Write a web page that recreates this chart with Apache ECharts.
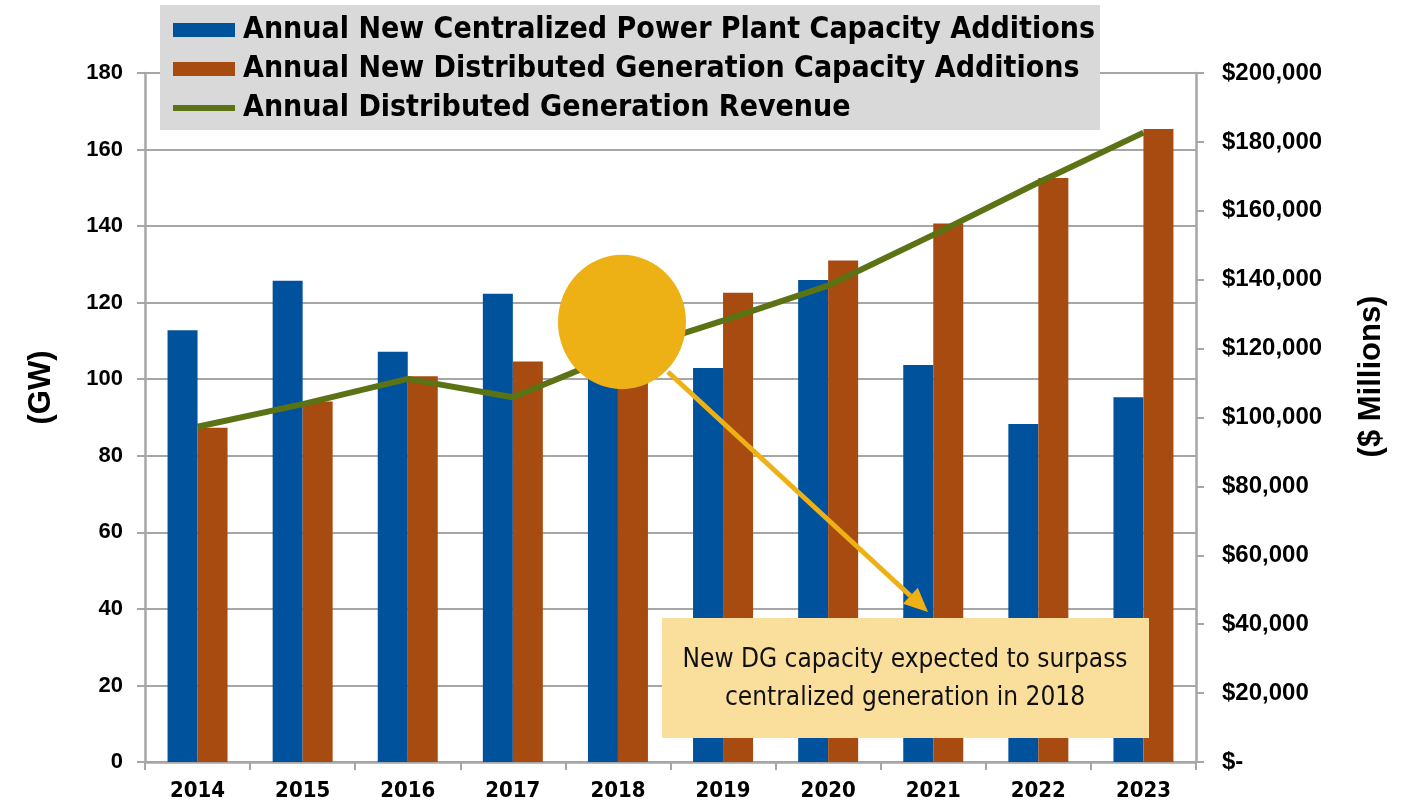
<!DOCTYPE html>
<html><head><meta charset="utf-8">
<script src="https://cdn.jsdelivr.net/npm/echarts@6/dist/echarts.min.js"></script>
<style>html,body{margin:0;padding:0;background:#fff}#c{width:1414px;height:807px}</style>
</head><body><div id="c"></div>
<script>
const years = ['2014','2015','2016','2017','2018','2019','2020','2021','2022','2023'];
const centralized = [112.8, 125.7, 107.2, 122.3, 108.0, 102.9, 125.9, 103.7, 88.3, 95.3];
const distributed = [87.3, 94.2, 100.8, 104.6, 113.0, 122.6, 131.0, 140.7, 152.6, 165.4];
const revenue = [97300, 103900, 111200, 105900, 118400, 128100, 138300, 153000, 168200, 182700];
const seriesNames = ['Annual New Centralized Power Plant Capacity Additions',
  'Annual New Distributed Generation Capacity Additions',
  'Annual Distributed Generation Revenue'];
const leftAxisName = '(GW)';
const rightAxisName = '($ Millions)';
const noteText = 'New DG capacity expected to surpass\ncentralized generation in 2018';

const NARROW = "'Liberation Sans Narrow','DejaVu Sans Condensed','Arial Narrow',sans-serif";
const SANS = "'Liberation Sans',Arial,sans-serif";
const GRAY = '#A6A6A6';
const GOLD = '#EDB015';

const chart = echarts.init(document.getElementById('c'));
const tip = [928, 612], from = [668, 372];
const dx = tip[0]-from[0], dy = tip[1]-from[1], L = Math.hypot(dx, dy);
const ux = dx/L, uy = dy/L, hl = 24, hw = 11;
const bx = tip[0]-ux*hl, by = tip[1]-uy*hl;

chart.setOption({
  animation: false,
  backgroundColor: '#fff',
  grid: {left: 145, right: 218, top: 73, bottom: 45, containLabel: false},
  legend: {
    orient: 'vertical', left: 160, top: 5,
    backgroundColor: '#D9D9D9', borderWidth: 0,
    padding: [10, 5, 7, 13], itemGap: 9,
    itemWidth: 62, itemHeight: 14,
    textStyle: {fontFamily: NARROW, fontWeight: 'bold', fontSize: 30, color: '#000', lineHeight: 30, padding: [0,0,0,3]},
    data: [{name: seriesNames[0], icon: 'rect'}, {name: seriesNames[1], icon: 'rect'},
           {name: seriesNames[2], icon: 'path://M0,0h62v6h-62z'}]
  },
  xAxis: {
    type: 'category', data: years,
    axisLine: {lineStyle: {color: GRAY, width: 2.5}},
    axisTick: {show: true, length: 8, lineStyle: {color: GRAY, width: 2}},
    axisLabel: {color: '#000', fontFamily: NARROW, fontWeight: 'bold', fontSize: 22, margin: 18}
  },
  yAxis: [{
    type: 'value', min: 0, max: 180, interval: 20,
    name: leftAxisName, nameLocation: 'middle', nameGap: 88, nameRotate: 90,
    nameTextStyle: {color: '#000', fontFamily: SANS, fontWeight: 'bold', fontSize: 31, padding: [0, 0, 0, 60]},
    axisLine: {show: true, lineStyle: {color: GRAY, width: 2.5}},
    axisTick: {show: true, length: 8, lineStyle: {color: GRAY, width: 2}},
    splitLine: {show: true, lineStyle: {color: GRAY, width: 2}},
    axisLabel: {color: '#000', fontFamily: SANS, fontWeight: 'bold', fontSize: 22, margin: 22}
  }, {
    type: 'value', min: 0, max: 200000, interval: 20000, position: 'right',
    name: rightAxisName, nameLocation: 'middle', nameGap: 160, nameRotate: 90,
    nameTextStyle: {color: '#000', fontFamily: SANS, fontWeight: 'bold', fontSize: 31, padding: [0, 0, 0, 82]},
    axisLine: {show: true, lineStyle: {color: GRAY, width: 2.5}},
    axisTick: {show: true, length: 8, lineStyle: {color: GRAY, width: 2}},
    splitLine: {show: false},
    axisLabel: {color: '#000', fontFamily: SANS, fontWeight: 'bold', fontSize: 24, margin: 26, align: 'left',
      formatter: v => v === 0 ? '$-' : '$' + v.toLocaleString('en-US')}
  }],
  series: [
    {name: seriesNames[0], type: 'bar', data: centralized, barWidth: 30, barGap: '0%',
     itemStyle: {color: '#00529C'}, z: 2},
    {name: seriesNames[1], type: 'bar', data: distributed, barWidth: 30, barGap: '0%',
     itemStyle: {color: '#A74B10'}, z: 2},
    {name: seriesNames[2], type: 'line', yAxisIndex: 1, data: revenue, symbol: 'none',
     lineStyle: {color: '#5B7314', width: 6}, itemStyle: {color: '#5B7314'}, z: 3}
  ],
  graphic: [
    {type: 'circle', x: 622, y: 322, scaleY: 1.05, shape: {cx: 0, cy: 0, r: 64}, style: {fill: GOLD}, z: 100},
    {type: 'line', shape: {x1: from[0], y1: from[1], x2: bx, y2: by}, style: {stroke: GOLD, lineWidth: 5}, z: 100},
    {type: 'polygon', shape: {points: [[tip[0], tip[1]], [bx - uy*hw, by + ux*hw], [bx + uy*hw, by - ux*hw]]}, style: {fill: GOLD}, z: 100},
    {type: 'rect', shape: {x: 662, y: 618, width: 487, height: 120}, style: {fill: '#F9DE9C'}, z: 100},
    {type: 'text', x: 905, y: 679, style: {text: noteText, fill: '#111', font: "26px " + NARROW, lineHeight: 38, align: 'center', verticalAlign: 'middle'}, z: 101}
  ]
});
</script></body></html>
